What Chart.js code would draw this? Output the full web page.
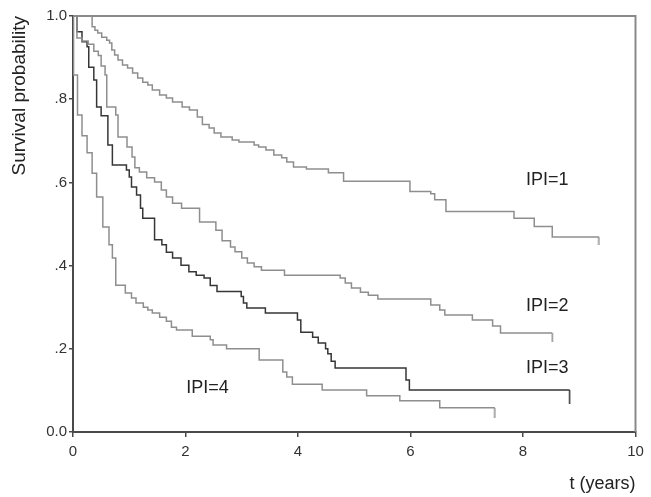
<!DOCTYPE html>
<html>
<head>
<meta charset="utf-8">
<script src="https://cdn.jsdelivr.net/npm/chart.js@4/dist/chart.umd.min.js"></script>
<style>
  html, body { margin: 0; padding: 0; background: #fff; }
  #wrap { width: 651px; height: 497px; }
</style>
</head>
<body>
<div id="wrap"><canvas id="myChart"></canvas></div>
<script>
// Kaplan-Meier curves (t in years, survival probability)
const ipi1Time = [0, 0.34, 0.39, 0.44, 0.51, 0.60, 0.65, 0.69, 0.74, 0.80, 0.88, 0.97, 1.06, 1.15, 1.24, 1.33, 1.41, 1.54, 1.66, 1.77, 1.94, 2.07, 2.21, 2.30, 2.42, 2.51, 2.63, 2.83, 2.95, 3.22, 3.30, 3.43, 3.57, 3.71, 3.80, 3.92, 4.15, 4.54, 4.81, 5.99, 6.36, 6.43, 6.63, 7.84, 8.20, 8.52, 9.35];
const ipi1Surv = [1, 0.974, 0.966, 0.959, 0.949, 0.942, 0.935, 0.918, 0.906, 0.894, 0.882, 0.875, 0.863, 0.851, 0.841, 0.834, 0.822, 0.810, 0.803, 0.793, 0.781, 0.774, 0.757, 0.739, 0.731, 0.719, 0.709, 0.702, 0.697, 0.690, 0.685, 0.678, 0.666, 0.659, 0.649, 0.637, 0.632, 0.623, 0.603, 0.578, 0.573, 0.558, 0.530, 0.514, 0.494, 0.469, 0.469];

const ipi2Time = [0, 0.07, 0.16, 0.27, 0.37, 0.45, 0.50, 0.57, 0.60, 0.76, 0.80, 0.96, 1.05, 1.10, 1.18, 1.31, 1.45, 1.57, 1.66, 1.77, 1.93, 2.25, 2.54, 2.65, 2.80, 2.88, 3.00, 3.10, 3.22, 3.35, 3.76, 4.75, 4.84, 4.95, 5.11, 5.25, 5.42, 6.36, 6.52, 6.61, 7.10, 7.46, 7.60, 8.52];
const ipi2Surv = [1, 0.947, 0.940, 0.932, 0.915, 0.905, 0.880, 0.858, 0.781, 0.762, 0.709, 0.685, 0.661, 0.635, 0.625, 0.611, 0.601, 0.582, 0.565, 0.550, 0.538, 0.505, 0.485, 0.460, 0.445, 0.433, 0.418, 0.406, 0.397, 0.389, 0.377, 0.370, 0.358, 0.346, 0.336, 0.329, 0.320, 0.305, 0.293, 0.281, 0.269, 0.255, 0.238, 0.238];

const ipi3Time = [0, 0.07, 0.16, 0.25, 0.28, 0.37, 0.42, 0.50, 0.62, 0.70, 0.95, 1.00, 1.04, 1.13, 1.20, 1.24, 1.45, 1.58, 1.66, 1.77, 1.92, 2.06, 2.19, 2.33, 2.44, 2.56, 2.99, 3.03, 3.09, 3.42, 3.99, 4.05, 4.26, 4.36, 4.49, 4.53, 4.59, 4.66, 5.92, 5.98, 8.83];
const ipi3Surv = [1, 0.962, 0.938, 0.926, 0.877, 0.846, 0.781, 0.760, 0.690, 0.642, 0.630, 0.613, 0.589, 0.570, 0.538, 0.514, 0.462, 0.450, 0.432, 0.418, 0.401, 0.385, 0.377, 0.370, 0.352, 0.338, 0.326, 0.310, 0.298, 0.286, 0.269, 0.240, 0.228, 0.214, 0.200, 0.188, 0.170, 0.154, 0.125, 0.101, 0.101];

const ipi4Time = [0, 0.01, 0.08, 0.16, 0.25, 0.34, 0.42, 0.53, 0.64, 0.70, 0.76, 0.93, 1.04, 1.12, 1.25, 1.33, 1.41, 1.54, 1.66, 1.75, 1.84, 2.12, 2.44, 2.49, 2.73, 3.31, 3.73, 3.80, 3.90, 4.43, 5.22, 5.81, 6.52, 7.50];
const ipi4Surv = [1, 0.858, 0.762, 0.712, 0.671, 0.622, 0.565, 0.493, 0.450, 0.418, 0.353, 0.334, 0.322, 0.310, 0.300, 0.293, 0.286, 0.276, 0.266, 0.252, 0.245, 0.230, 0.222, 0.209, 0.200, 0.173, 0.144, 0.132, 0.115, 0.101, 0.087, 0.075, 0.058, 0.058];

const xTicks = [0, 2, 4, 6, 8, 10];
const yTicks = [0, 0.2, 0.4, 0.6, 0.8, 1.0];

// curve labels drawn inside the plot
const curveLabels = [
  { text: 'IPI=1', t: 8.43, s: 0.606 },
  { text: 'IPI=2', t: 8.43, s: 0.303 },
  { text: 'IPI=3', t: 8.43, s: 0.154 },
  { text: 'IPI=4', t: 2.39, s: 0.106 }
];

const light = '#8e8e8e';
const dark = '#363636';
const axisCol = '#4a4a4a';

function zip(ts, ss) {
  return ts.map((t, i) => ({ x: t, y: ss[i] }));
}

// censoring tick at the end of each curve, hanging below the line
function censorTick(color, len) {
  const c = document.createElement('canvas');
  c.width = 3;
  c.height = len * 2;
  const g = c.getContext('2d');
  g.strokeStyle = color;
  g.lineWidth = 1.5;
  g.beginPath();
  g.moveTo(1.5, len);
  g.lineTo(1.5, len * 2);
  g.stroke();
  return c;
}

function km(label, ts, ss, color, tickLen) {
  const tick = censorTick(color, tickLen);
  return {
    label: label,
    data: zip(ts, ss),
    borderColor: color,
    borderWidth: 1.5,
    stepped: 'before',
    fill: false,
    pointStyle: tick,
    pointRadius: ctx => ctx.dataIndex === ctx.dataset.data.length - 1 ? tickLen : 0,
    pointHoverRadius: 0
  };
}

const framePlugin = {
  id: 'frame',
  afterDatasetsDraw(chart) {
    const { ctx, chartArea: a } = chart;
    ctx.save();
    ctx.strokeStyle = '#8a8a8a';
    ctx.lineWidth = 2;
    ctx.beginPath();
    ctx.moveTo(a.left, a.top);
    ctx.lineTo(a.right, a.top);
    ctx.lineTo(a.right, a.bottom);
    ctx.stroke();
    ctx.restore();
  }
};

const labelPlugin = {
  id: 'curveLabels',
  afterDatasetsDraw(chart) {
    const { ctx, scales } = chart;
    ctx.save();
    ctx.fillStyle = '#222';
    ctx.font = '18px "Liberation Sans", Arial, sans-serif';
    ctx.textAlign = 'center';
    ctx.textBaseline = 'middle';
    curveLabels.forEach(l => {
      ctx.fillText(l.text, scales.x.getPixelForValue(l.t), scales.y.getPixelForValue(l.s));
    });
    ctx.restore();
  }
};

const ctx = document.getElementById('myChart');

const config = {
  type: 'line',
  data: {
    datasets: [
      km('IPI=1', ipi1Time, ipi1Surv, light, 8),
      km('IPI=2', ipi2Time, ipi2Surv, light, 9),
      km('IPI=3', ipi3Time, ipi3Surv, dark, 14),
      km('IPI=4', ipi4Time, ipi4Surv, light, 10)
    ]
  },
  options: {
    responsive: true,
    maintainAspectRatio: false,
    animation: false,
    layout: { padding: { top: 16, right: 12, left: 0, bottom: 0 } },
    plugins: {
      legend: { display: false },
      tooltip: { enabled: false }
    },
    scales: {
      x: {
        type: 'linear',
        min: 0,
        max: 10,
        afterBuildTicks: s => { s.ticks = xTicks.map(v => ({ value: v })); },
        afterFit: s => { s.height = 65; },
        grid: { drawOnChartArea: false, drawTicks: true, tickLength: 5, color: axisCol, lineWidth: 1.5 },
        border: { display: true, color: axisCol, width: 2 },
        ticks: {
          color: '#333',
          padding: 6,
          maxRotation: 0,
          font: { family: '"Liberation Sans", Arial, sans-serif', size: 15 }
        },
        title: {
          display: true,
          text: 't (years)',
          align: 'end',
          color: '#222',
          padding: { top: 0, bottom: 2 },
          font: { family: '"Liberation Sans", Arial, sans-serif', size: 18 }
        }
      },
      y: {
        min: 0,
        max: 1,
        afterBuildTicks: s => { s.ticks = yTicks.map(v => ({ value: v })); },
        afterFit: s => { s.width = 73; },
        grid: { drawOnChartArea: false, drawTicks: true, tickLength: 4, color: axisCol, lineWidth: 1.5 },
        border: { display: true, color: axisCol, width: 2 },
        ticks: {
          color: '#333',
          padding: 2,
          font: { family: '"Liberation Sans", Arial, sans-serif', size: 15 },
          callback: v => {
            if (v === 0) return '0.0';
            if (v === 1) return '1.0';
            return v.toFixed(1).replace(/^0/, '');
          }
        },
        title: {
          display: true,
          text: 'Survival probability',
          align: 'end',
          color: '#222',
          padding: { top: 8, bottom: 0 },
          font: { family: '"Liberation Sans", Arial, sans-serif', size: 19 }
        }
      }
    }
  },
  plugins: [framePlugin, labelPlugin]
};

let myChart = new Chart(ctx, config);
</script>
</body>
</html>
